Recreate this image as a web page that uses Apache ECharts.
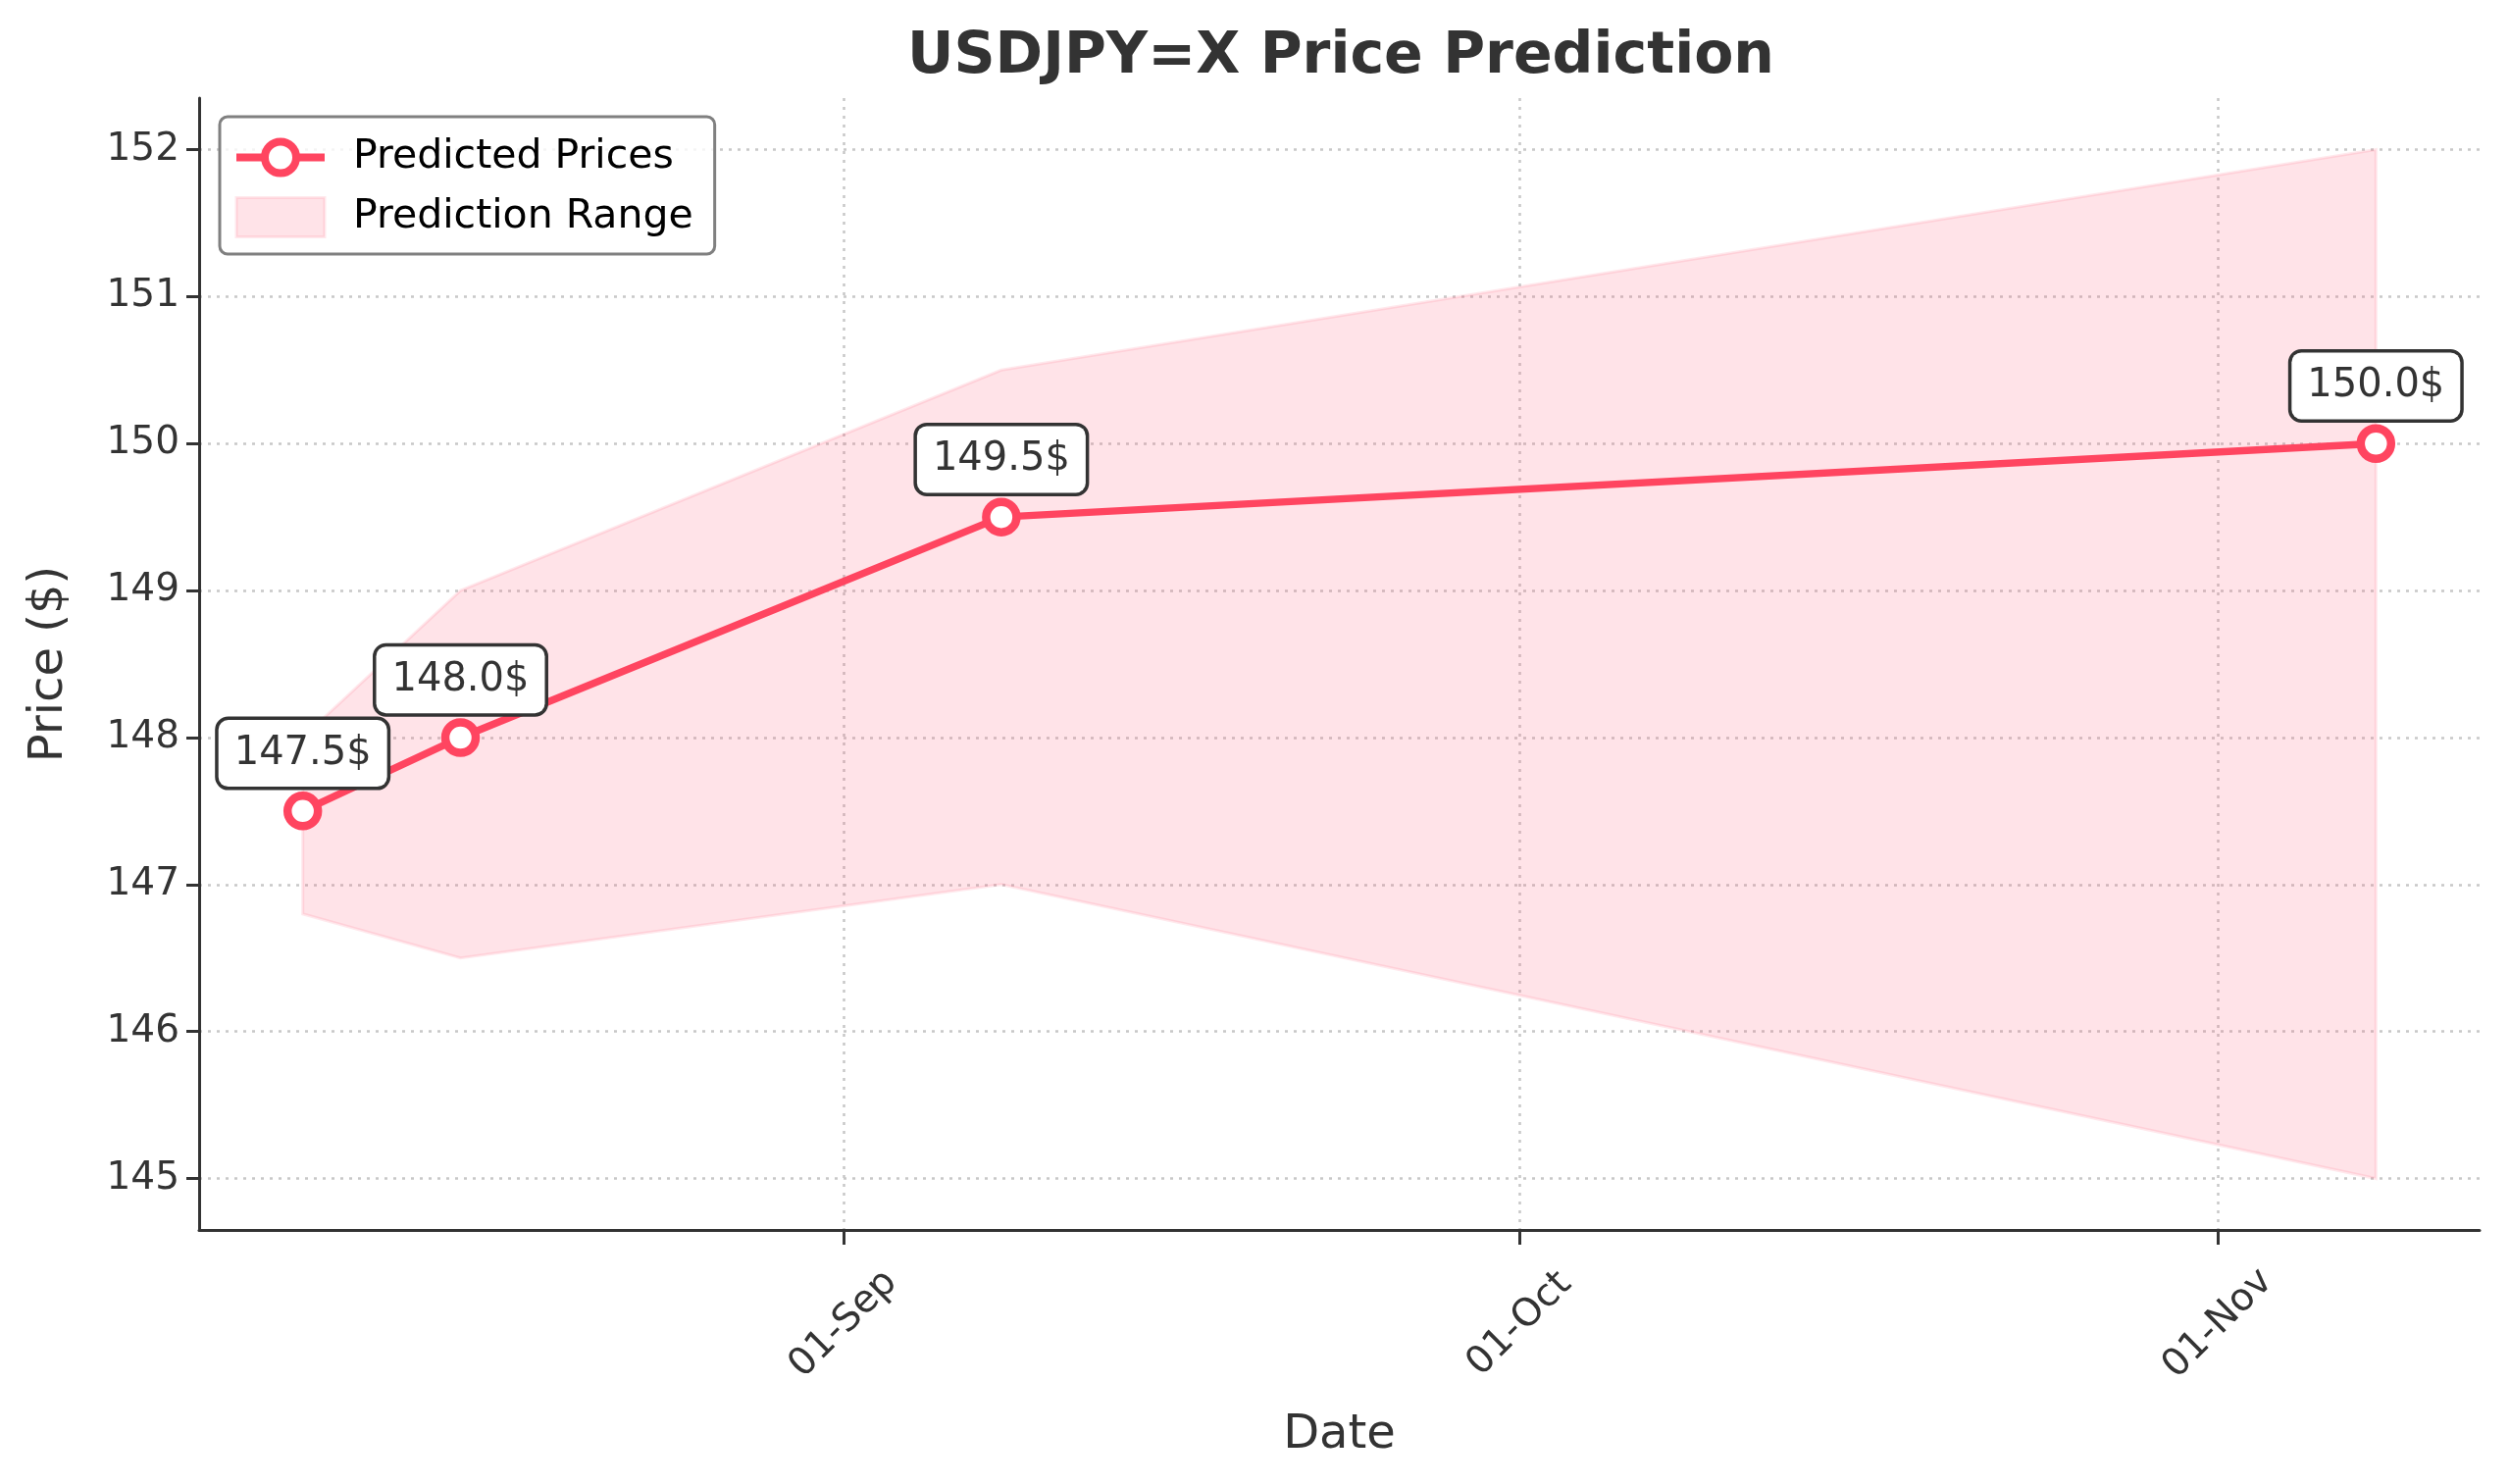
<!DOCTYPE html>
<html>
<head>
<meta charset="utf-8">
<script src="https://cdn.jsdelivr.net/npm/echarts@6/dist/echarts.min.js"></script>
<style>
  html, body { margin: 0; padding: 0; background: #fff; }
  #chart { width: 2558px; height: 1513px; }
</style>
</head>
<body>
<div id="chart"></div>
<script>
// data
const dates = ['2023-08-08', '2023-08-15', '2023-09-08', '2023-11-08'];
const predicted = [147.5, 148.0, 149.5, 150.0];
const lower = [146.8, 146.5, 147.0, 145.0];
const upper = [148.0, 149.0, 150.5, 152.0];
const xTicks = ['2023-09-01', '2023-10-01', '2023-11-01'];
const yTicks = [145, 146, 147, 148, 149, 150, 151, 152];

const months = ['Jan', 'Feb', 'Mar', 'Apr', 'May', 'Jun', 'Jul', 'Aug', 'Sep', 'Oct', 'Nov', 'Dec'];
function ts(s) {
  const p = s.split('-');
  return Date.UTC(+p[0], +p[1] - 1, +p[2]);
}
const xs = dates.map(ts);
const span = xs[xs.length - 1] - xs[0];
const ySpan = Math.max(...upper) - Math.min(...lower);

const lineColor = '#ff4560';
const bandColor = 'rgba(255,90,120,0.17)';
const bandEdge = 'rgba(255,90,120,0.14)';
const font = 'DejaVu Sans';

let myChart = echarts.init(document.getElementById('chart'));

// the band is one polygon: upper edge forward, lower edge back
function renderBand(params, api) {
  if (params.dataIndex !== 0) return;
  const pts = [];
  for (let i = 0; i < xs.length; i++) pts.push(api.coord([xs[i], upper[i]]));
  for (let i = xs.length - 1; i >= 0; i--) pts.push(api.coord([xs[i], lower[i]]));
  return {
    type: 'polygon',
    shape: { points: pts },
    style: { fill: bandColor, stroke: bandEdge, lineWidth: 3 }
  };
}

option = {
  backgroundColor: '#fff',
  animation: false,
  title: {
    text: 'USDJPY=X Price Prediction',
    left: 1362,
    textAlign: 'center',
    top: 24,
    textStyle: { fontFamily: font, fontSize: 58.5, fontWeight: 'bold', color: '#333' }
  },
  legend: {
    left: 224,
    top: 119,
    orient: 'vertical',
    padding: [21, 22, 16, 13],
    itemGap: 19,
    itemWidth: 90,
    itemHeight: 40,
    borderColor: '#808080',
    borderWidth: 3,
    borderRadius: 8,
    backgroundColor: 'rgba(255,255,255,0.8)',
    textStyle: { fontFamily: font, fontSize: 41, color: '#000', padding: [0, 0, 0, 24] },
    data: [
      {
        name: 'Predicted Prices',
        lineStyle: { width: 8, color: lineColor },
        itemStyle: { color: '#fff', borderColor: lineColor, borderWidth: 8 }
      },
      {
        name: 'Prediction Range',
        icon: 'rect',
        itemStyle: { color: bandColor, borderColor: bandEdge, borderWidth: 3 }
      }
    ]
  },
  grid: { left: 203, right: 30, top: 100, bottom: 259 },
  xAxis: {
    type: 'value',
    min: xs[0] - span * 0.05,
    max: xs[xs.length - 1] + span * 0.05,
    name: 'Date',
    nameLocation: 'middle',
    nameGap: 186,
    nameTextStyle: { fontFamily: font, fontSize: 48, color: '#333' },
    axisLine: { show: true, lineStyle: { color: '#333', width: 3 } },
    axisTick: { show: true, length: 15, lineStyle: { color: '#333', width: 3 }, customValues: xTicks.map(ts) },
    axisLabel: {
      customValues: xTicks.map(ts),
      rotate: 45,
      align: 'center',
      verticalAlign: 'middle',
      margin: 96,
      fontFamily: font,
      fontSize: 39,
      color: '#333',
      formatter: function (v) {
        const d = new Date(v);
        return String(d.getUTCDate()).padStart(2, '0') + '-' + months[d.getUTCMonth()];
      }
    },
    splitLine: { show: true, lineStyle: { color: '#c8c8c8', width: 2.5, type: [3, 6] } }
  },
  yAxis: {
    type: 'value',
    min: Math.min(...lower) - ySpan * 0.05,
    max: Math.max(...upper) + ySpan * 0.05,
    name: 'Price ($)',
    nameLocation: 'middle',
    nameGap: 128,
    nameTextStyle: { fontFamily: font, fontSize: 48, color: '#333' },
    axisLine: { show: true, lineStyle: { color: '#333', width: 3 } },
    axisTick: { show: true, length: 13, lineStyle: { color: '#333', width: 3 }, customValues: yTicks },
    axisLabel: { customValues: yTicks, margin: 20, fontFamily: font, fontSize: 39, color: '#333' },
    splitLine: { show: true, lineStyle: { color: '#c8c8c8', width: 2.5, type: [3, 6] } }
  },
  series: [
    {
      name: 'Prediction Range',
      type: 'custom',
      renderItem: renderBand,
      data: xs.map((x, i) => [x, lower[i], upper[i]]),
      encode: { x: 0, y: [1, 2] },
      itemStyle: { color: bandColor },
      z: 1
    },
    {
      name: 'Predicted Prices',
      type: 'line',
      data: xs.map((x, i) => [x, predicted[i]]),
      symbol: 'circle',
      symbolSize: 31,
      showAllSymbol: true,
      lineStyle: { color: lineColor, width: 7.5 },
      itemStyle: { color: '#fff', borderColor: lineColor, borderWidth: 8.5 },
      label: {
        show: true,
        position: 'top',
        distance: 5,
        formatter: function (p) { return p.value[1].toFixed(1) + '$'; },
        fontFamily: font,
        fontSize: 40,
        lineHeight: 40,
        color: '#333',
        backgroundColor: '#fff',
        borderColor: '#333',
        borderWidth: 3.5,
        borderRadius: 10,
        padding: [14, 16]
      },
      z: 5
    }
  ]
};

myChart.setOption(option);
</script>
</body>
</html>
